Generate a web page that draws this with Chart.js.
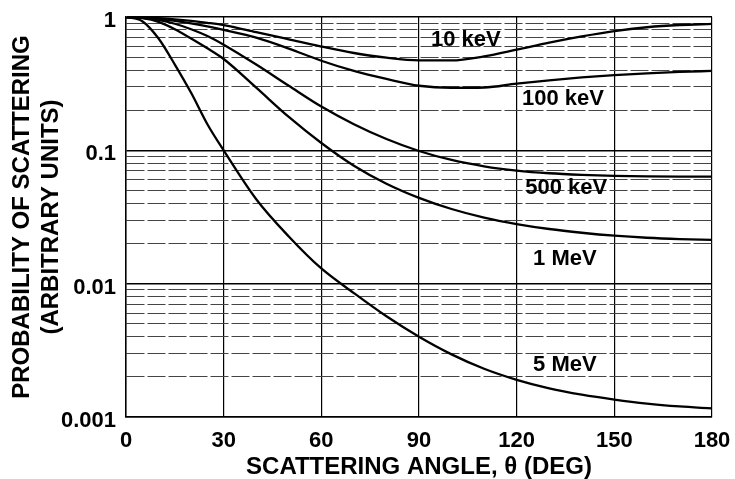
<!DOCTYPE html>
<html>
<head>
<meta charset="utf-8">
<title>Scattering probability vs angle</title>
<script src="https://cdn.jsdelivr.net/npm/chart.js@4.4.1/dist/chart.umd.min.js"></script>
<style>
  html, body { margin: 0; padding: 0; background: #fff; }
</style>
</head>
<body>
<canvas id="grafico" width="735" height="479"></canvas>
<script>
// scattering angle (deg) where the curves were read
var angoli = [0, 5, 10, 15, 20, 25, 30, 40, 50, 60, 70, 80, 90, 100, 110, 120, 130, 140, 150, 160, 170, 180];

var prob10keV  = [1, 0.995, 0.98, 0.96, 0.935, 0.905, 0.87, 0.77, 0.68, 0.60, 0.537, 0.495, 0.473, 0.473, 0.507, 0.569, 0.643, 0.716, 0.785, 0.838, 0.871, 0.887];
var prob100keV = [1, 0.99, 0.97, 0.935, 0.895, 0.85, 0.80, 0.70, 0.58, 0.47, 0.394, 0.343, 0.305, 0.294, 0.296, 0.316, 0.335, 0.352, 0.366, 0.378, 0.387, 0.394];
var prob500keV = [1, 0.985, 0.95, 0.89, 0.81, 0.72, 0.62, 0.44, 0.305, 0.213, 0.157, 0.1216, 0.0989, 0.0847, 0.0759, 0.0705, 0.0673, 0.0655, 0.0644, 0.0638, 0.0635, 0.0634];
var prob1MeV   = [1, 0.98, 0.92, 0.81, 0.69, 0.582, 0.484, 0.295, 0.178, 0.1135, 0.0767, 0.0562, 0.044, 0.0363, 0.0313, 0.028, 0.0257, 0.0241, 0.0229, 0.0221, 0.0216, 0.0213];
var prob5MeV   = [1, 0.93, 0.69, 0.44, 0.27, 0.157, 0.1, 0.043, 0.0226, 0.013, 0.0085, 0.00569, 0.004, 0.00295, 0.0023, 0.0019, 0.00164, 0.00147, 0.00135, 0.00126, 0.0012, 0.00116];

var nomiCurve = ["10 keV", "100 keV", "500 keV", "1 MeV", "5 MeV"];

var xTicks = [0, 30, 60, 90, 120, 150, 180];
var decadi = [0.001, 0.01, 0.1, 1];
var etichetteY = ["0.001", "0.01", "0.1", "1"];

// where each curve name sits (angle, probability)
var posEtichette = [[104.4, 0.672], [134.2, 0.243], [135.2, 0.0522], [134.8, 0.0153], [134.8, 0.00246]];

var FONT = "'Liberation Sans', Arial, Helvetica, sans-serif";

function punti(valori) {
    var arr = [];
    for (var i = 0; i < angoli.length; i++) {
        arr.push({ x: angoli[i], y: valori[i] });
    }
    return arr;
}

function isDecade(v) {
    var l = Math.log10(v);
    return Math.abs(l - Math.round(l)) < 1e-6;
}

// all minor + major positions of the log grid
var yGrid = [];
for (var d = 0; d < decadi.length - 1; d++) {
    for (var m = 1; m <= 9; m++) {
        yGrid.push(+(m * decadi[d]).toPrecision(6));
    }
}
yGrid.push(decadi[decadi.length - 1]);

var serie = [prob10keV, prob100keV, prob500keV, prob1MeV, prob5MeV];
var datasets = serie.map(function (s, i) {
    return {
        label: nomiCurve[i],
        data: punti(s),
        borderColor: "#000",
        borderWidth: 2.3,
        pointRadius: 0,
        fill: false,
        cubicInterpolationMode: "monotone"
    };
});

var etichetteCurve = {
    id: "etichetteCurve",
    afterDatasetsDraw: function (chart) {
        var ctx = chart.ctx;
        ctx.save();
        ctx.font = "bold 22px " + FONT;
        ctx.fillStyle = "#000";
        ctx.textAlign = "center";
        ctx.textBaseline = "middle";
        posEtichette.forEach(function (p, i) {
            var x = chart.scales.x.getPixelForValue(p[0]);
            var y = chart.scales.y.getPixelForValue(p[1]);
            ctx.fillText(nomiCurve[i], x, y);
        });
        ctx.restore();
    }
};

var ctx = document.getElementById("grafico");
var grafico = new Chart(ctx, {
    type: "line",
    data: { datasets: datasets },
    plugins: [etichetteCurve],
    options: {
        responsive: false,
        animation: false,
        layout: { padding: { left: 0, right: 23, top: 17, bottom: 0 } },
        plugins: { legend: { display: false }, tooltip: { enabled: false } },
        scales: {
            x: {
                type: "linear",
                min: 0,
                max: 180,
                afterBuildTicks: function (scale) {
                    scale.ticks = xTicks.map(function (v) { return { value: v }; });
                },
                afterFit: function (scale) { scale.height = 62; },
                ticks: {
                    color: "#000",
                    padding: 0,
                    font: { family: FONT, size: 22, weight: "bold" }
                },
                // tick marks kept invisible, their length only spaces the labels
                grid: { color: "#000", lineWidth: 1.2, drawTicks: true, tickLength: 11, tickColor: "rgba(0,0,0,0)" },
                border: { color: "#000", width: 1.5 },
                title: {
                    display: true,
                    text: "SCATTERING ANGLE, \u03b8 (DEG)",
                    color: "#000",
                    padding: { top: 0, bottom: 0 },
                    font: { family: FONT, size: 24, weight: "bold", lineHeight: 1 }
                }
            },
            y: {
                type: "logarithmic",
                min: 0.001,
                max: 1,
                afterBuildTicks: function (scale) {
                    scale.ticks = yGrid.map(function (v) { return { value: v, major: isDecade(v) }; });
                },
                afterFit: function (scale) { scale.width = 126; },
                ticks: {
                    color: "#000",
                    padding: 0,
                    labelOffset: 4,
                    autoSkip: false,
                    font: { family: FONT, size: 22, weight: "bold" },
                    callback: function (value) {
                        for (var i = 0; i < decadi.length; i++) {
                            if (Math.abs(decadi[i] - value) / decadi[i] < 1e-6) return etichetteY[i];
                        }
                        return "";
                    }
                },
                grid: {
                    drawTicks: true,
                    tickLength: 10,
                    tickColor: "rgba(0,0,0,0)",
                    color: function (c) {
                        return (c.tick && !isDecade(c.tick.value)) ? "#444" : "#000";
                    },
                    lineWidth: function (c) {
                        return (c.tick && !isDecade(c.tick.value)) ? 1 : 1.6;
                    }
                },
                border: {
                    color: "#000",
                    width: 1.5,
                    dash: function (c) {
                        return (c.tick && !isDecade(c.tick.value)) ? [18, 3] : [];
                    }
                },
                title: {
                    display: true,
                    text: ["PROBABILITY OF SCATTERING", "(ARBITRARY UNITS)"],
                    color: "#000",
                    padding: { top: 8, bottom: 0 },
                    font: { family: FONT, size: 24, weight: "bold" }
                }
            }
        }
    }
});
</script>
</body>
</html>
